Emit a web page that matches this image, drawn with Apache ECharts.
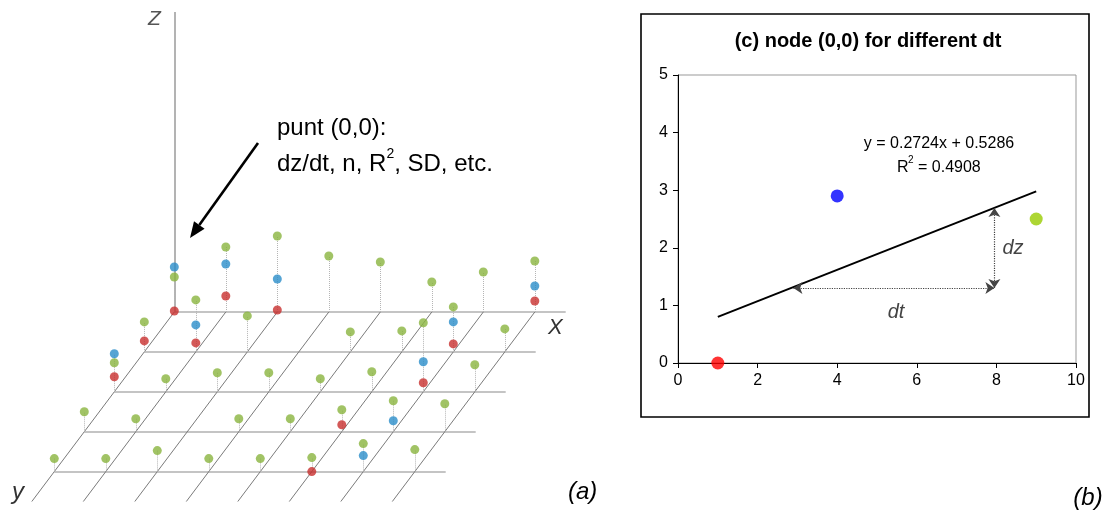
<!DOCTYPE html>
<html><head><meta charset="utf-8">
<script src="https://cdn.jsdelivr.net/npm/echarts@6/dist/echarts.min.js"></script>
<style>html,body{margin:0;padding:0;background:#fff}#c{width:1109px;height:518px}</style>
</head><body><div id="c"></div>
<script>
// ---------- Panel (a): grid of nodes, i along X (0..7), j along y (0..4) ----------
const nodeCols = [0, 1, 2, 3, 4, 5, 6, 7];
const nodeRows = [0, 1, 2, 3, 4];
// green value above every node (null = no value)
const greenZ = [
  [3.5, 6.5, 7.6, 5.6, 5.0, 3.0, 4.0, 5.1],
  [3.0, 5.2, 3.6, null, 2.0, 2.1, 4.5, 2.3],
  [2.9, 1.3, 1.9, 1.9, 1.3, 2.0, 6.9, 2.7],
  [2.0, 1.3, null, 1.3, 1.3, 2.2, 3.1, 2.8],
  [1.3, 1.3, 2.1, 1.3, 1.3, 1.4, 2.8, 2.2]
];
// [i, j, z]
const bluePts = [[0,0,4.5],[1,0,4.8],[2,0,3.3],[7,0,2.6],[1,1,2.7],[6,1,3.0],[0,2,3.8],[6,2,3.0],[6,3,1.1],[6,4,1.6]];
const redPts  = [[0,0,0.1],[1,0,1.6],[2,0,0.2],[7,0,1.1],[0,1,1.1],[1,1,0.9],[6,1,0.8],[0,2,1.5],[6,2,0.9],[5,3,0.7],[5,4,0.0]];
const zAxisTop = 30;

// ---------- Panel (b): node (0,0) for different dt ----------
const dtValues = [1, 4, 9];
const nodeValues = [0, 2.9, 2.5];
const trendSlope = 0.2724, trendIntercept = 0.5286, trendR2 = 0.4908;
const xTickLabels = [0, 2, 4, 6, 8, 10];
const yTickLabels = [0, 1, 2, 3, 4, 5];
const dtArrow = [[2.9, 1.3], [7.95, 1.3]];
const dzArrow = [[7.95, 1.3], [7.95, 2.69]];

// oblique projection of the (a) scene into a hidden pixel-like cartesian grid
const X0 = 174.3, DX = 51.5, SX = -30, Y0 = 312, DY = 39.9, ZS = 10;
function proj(i, j, z) { return [X0 + i * DX + j * SX, Y0 + j * DY - z * ZS]; }

const hLines = nodeRows.map(j => ({ coords: [proj(0, j, 0), proj(7.6, j, 0)] }));
const dLines = nodeCols.map(i => ({ coords: [proj(i, 0, 0), proj(i, 4.75, 0)] }));

const greenData = [];
const tops = {};
function addTop(i, j, z) { const k = i + '_' + j; tops[k] = Math.max(tops[k] == null ? 0 : tops[k], z); }
nodeRows.forEach(j => nodeCols.forEach(i => {
  const z = greenZ[j][i];
  if (z != null) { greenData.push(proj(i, j, z)); addTop(i, j, z); }
}));
bluePts.forEach(p => addTop(p[0], p[1], p[2]));
redPts.forEach(p => addTop(p[0], p[1], p[2]));
const stems = Object.keys(tops).map(k => {
  const [i, j] = k.split('_').map(Number);
  return { coords: [proj(i, j, 0), proj(i, j, tops[k])] };
});
const blueData = bluePts.map(p => proj(p[0], p[1], p[2]));
const redData = redPts.map(p => proj(p[0], p[1], p[2]));

const FONT = "'Liberation Sans', Arial, sans-serif";
const ptColors = ['#ff0000', '#0000ff', '#99cc00'];

const chart = echarts.init(document.getElementById('c'));
chart.setOption({
  animation: false,
  backgroundColor: '#ffffff',
  grid: [
    { left: 0, top: 0, width: 600, height: 518, show: false },
    { left: 678, top: 75, width: 398, height: 288, show: true, borderColor: '#999', borderWidth: 1, backgroundColor: 'transparent' }
  ],
  xAxis: [
    { gridIndex: 0, type: 'value', min: 0, max: 600, show: false },
    { gridIndex: 1, type: 'value', min: 0, max: 10, interval: 2,
      axisLine: { show: true, lineStyle: { color: '#000', width: 1 } },
      axisTick: { show: true, inside: false, length: 5, lineStyle: { color: '#000' } },
      axisLabel: { color: '#000', fontSize: 16, fontFamily: FONT, margin: 10,
        formatter: v => xTickLabels.indexOf(v) >= 0 ? String(v) : '' },
      splitLine: { show: false } }
  ],
  yAxis: [
    { gridIndex: 0, type: 'value', min: 0, max: 518, inverse: true, show: false },
    { gridIndex: 1, type: 'value', min: 0, max: 5, interval: 1,
      axisLine: { show: true, lineStyle: { color: '#000', width: 1 } },
      axisTick: { show: true, inside: false, length: 5, lineStyle: { color: '#000' } },
      axisLabel: { color: '#000', fontSize: 16, fontFamily: FONT, margin: 10,
        formatter: v => yTickLabels.indexOf(v) >= 0 ? String(v) : '' },
      splitLine: { show: false } }
  ],
  series: [
    { type: 'lines', coordinateSystem: 'cartesian2d', xAxisIndex: 0, yAxisIndex: 0, z: 1, silent: true,
      lineStyle: { color: '#c4c4c4', width: 2, opacity: 1 }, data: hLines },
    { type: 'lines', coordinateSystem: 'cartesian2d', xAxisIndex: 0, yAxisIndex: 0, z: 1, silent: true,
      lineStyle: { color: '#7a7a7a', width: 1, opacity: 1 }, data: dLines },
    { type: 'lines', coordinateSystem: 'cartesian2d', xAxisIndex: 0, yAxisIndex: 0, z: 1, silent: true,
      lineStyle: { color: '#a0a0a0', width: 1.6, opacity: 1 },
      data: [{ coords: [proj(0, 0, 0), proj(0, 0, zAxisTop)] }] },
    { type: 'lines', coordinateSystem: 'cartesian2d', xAxisIndex: 0, yAxisIndex: 0, z: 2, silent: true,
      lineStyle: { color: '#b5b5b5', width: 1, type: 'dotted', opacity: 1 }, data: stems },
    { type: 'scatter', xAxisIndex: 0, yAxisIndex: 0, z: 3, symbolSize: 9, silent: true,
      itemStyle: { color: '#8ab43f' }, data: greenData },
    { type: 'scatter', xAxisIndex: 0, yAxisIndex: 0, z: 3, symbolSize: 9, silent: true,
      itemStyle: { color: '#2a8dc9' }, data: blueData },
    { type: 'scatter', xAxisIndex: 0, yAxisIndex: 0, z: 3, symbolSize: 9, silent: true,
      itemStyle: { color: '#c8302e' }, data: redData },

    // panel (b)
    { type: 'line', xAxisIndex: 1, yAxisIndex: 1, symbol: 'none', z: 3,
      lineStyle: { color: '#000', width: 2 },
      data: [[dtValues[0], trendSlope * dtValues[0] + trendIntercept],
             [dtValues[dtValues.length - 1], trendSlope * dtValues[dtValues.length - 1] + trendIntercept]] },
    { type: 'lines', coordinateSystem: 'cartesian2d', xAxisIndex: 1, yAxisIndex: 1, z: 4,
      symbol: ['arrow', 'arrow'], symbolSize: 9,
      lineStyle: { color: '#444', width: 1.2, type: 'dotted', opacity: 1 },
      data: [{ coords: dtArrow }, { coords: dzArrow }] },
    { type: 'scatter', xAxisIndex: 1, yAxisIndex: 1, z: 5, symbolSize: 13,
      data: dtValues.map((x, k) => ({ value: [x, nodeValues[k]], itemStyle: { color: ptColors[k] } })) }
  ],
  graphic: [
    // panel (a) annotations
    { type: 'text', left: 148, top: 9, style: { text: 'Z', font: 'italic 21px ' + FONT, fill: '#555' } },
    { type: 'text', left: 548, top: 317, style: { text: 'X', font: 'italic 22px ' + FONT, fill: '#333' } },
    { type: 'text', left: 12, top: 480, style: { text: 'y', font: 'italic 24px ' + FONT, fill: '#333' } },
    { type: 'text', left: 568, top: 480, style: { text: '(a)', font: 'italic 24px ' + FONT, fill: '#000' } },
    { type: 'text', x: 277, y: 128, style: { text: 'punt (0,0):', font: '24px ' + FONT, fill: '#000', verticalAlign: 'middle' } },
    { type: 'text', left: 277, top: 142, style: {
        text: '{n|dz/dt, n, R}{s|2}{n|, SD, etc.}',
        rich: { n: { fontSize: 24, fontFamily: FONT, fill: '#000', color: '#000', lineHeight: 34, verticalAlign: 'bottom' },
                s: { fontSize: 14, fontFamily: FONT, fill: '#000', color: '#000', lineHeight: 34, verticalAlign: 'top', padding: [5, 0, 0, 0] } } } },
    { type: 'line', shape: { x1: 258, y1: 143, x2: 199.3, y2: 225 }, style: { stroke: '#000', lineWidth: 2.6 } },
    { type: 'polygon', shape: { points: [[190, 238], [204.6, 228.8], [194.0, 221.2]] }, style: { fill: '#000' } },

    // panel (b) frame, title and labels
    { type: 'rect', shape: { x: 641, y: 14, width: 448, height: 403 }, style: { fill: 'none', stroke: '#000', lineWidth: 1.6 }, z: -1 },
    { type: 'text', x: 868, y: 41, style: { text: '(c) node (0,0) for different dt', font: 'bold 20px ' + FONT, fill: '#000', align: 'center', verticalAlign: 'middle' } },
    { type: 'text', x: 939, y: 144, style: { text: 'y = ' + trendSlope + 'x + ' + trendIntercept, font: '16px ' + FONT, fill: '#000', align: 'center', verticalAlign: 'middle' } },
    { type: 'text', x: 897, y: 168, style: { text: 'R', font: '16px ' + FONT, fill: '#000', align: 'left', verticalAlign: 'middle' } },
    { type: 'text', x: 908, y: 160, style: { text: '2', font: '10px ' + FONT, fill: '#000', align: 'left', verticalAlign: 'middle' } },
    { type: 'text', x: 918, y: 168, style: { text: '= ' + trendR2, font: '16px ' + FONT, fill: '#000', align: 'left', verticalAlign: 'middle' } },
    { type: 'text', x: 1013, y: 248, style: { text: 'dz', font: 'italic 20px ' + FONT, fill: '#444', align: 'center', verticalAlign: 'middle' } },
    { type: 'text', x: 896, y: 312, style: { text: 'dt', font: 'italic 20px ' + FONT, fill: '#444', align: 'center', verticalAlign: 'middle' } },
    { type: 'text', x: 1088, y: 498, style: { text: '(b)', font: 'italic 24px ' + FONT, fill: '#000', align: 'center', verticalAlign: 'middle' } }
  ]
});
</script>
</body></html>
